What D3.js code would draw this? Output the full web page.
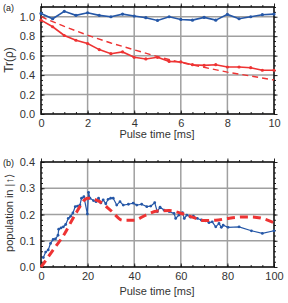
<!DOCTYPE html>
<html><head><meta charset="utf-8">
<script src="https://cdn.jsdelivr.net/npm/d3@7"></script>
<style>body{margin:0;background:#fff}svg{display:block}text{font-family:"Liberation Sans",Arial,sans-serif}</style>
</head><body><svg id="c" width="288" height="303"></svg>
<script>
// Panel (a)
const aTime = [0,0.5,1,1.5,2,2.5,3,3.5,4,4.5,5,5.5,6,6.5,7,7.5,8,8.5,9,9.5,10];
const aBlue = [1.034,0.979,1.056,1.014,1.041,1.014,1.0,1.027,1.007,0.99,0.962,1.0,0.972,0.965,0.993,0.965,1.024,0.979,1.0,1.021,1.027];
const aRed  = [0.965,0.897,0.807,0.758,0.724,0.662,0.62,0.638,0.583,0.566,0.583,0.541,0.535,0.507,0.5,0.507,0.483,0.483,0.476,0.45,0.45];
const aFitX = [0,1,2,3,4,5,6,7,8,9,10];
const aFitY = [1.0,0.90,0.81,0.73,0.66,0.59,0.53,0.48,0.43,0.39,0.35];
const aXTicks = [0,2,4,6,8,10];
const aYTicks = [0,0.2,0.4,0.6,0.8,1.0];
// Panel (b)
const bTime = [1,2,3.1,4.1,5.2,6.2,7.3,7.6,8.6,9.6,10.6,11.7,12.7,13.7,14.7,15.7,16.7,17.4,18.4,19.9,20.4,21.0,22.5,23.6,24.7,25.7,26.7,27.8,28.8,29.9,31.0,32.5,33.9,35.3,37.5,39.6,41.1,43.2,45.4,47.1,48.8,49.9,51.1,52.8,55,57.1,57.8,59.2,60.7,61.5,62.6,64.2,65.4,67.1,68.8,70.7,72.1,73.5,75,76.4,77.4,78.2,80.3,85,90.3,95,100];
const bPop  = [0.036,0.057,0.065,0.09,0.105,0.107,0.121,0.144,0.149,0.153,0.162,0.185,0.193,0.206,0.23,0.232,0.236,0.262,0.268,0.202,0.284,0.262,0.253,0.249,0.262,0.244,0.256,0.241,0.258,0.262,0.262,0.236,0.249,0.236,0.239,0.243,0.236,0.239,0.23,0.232,0.245,0.211,0.228,0.217,0.211,0.204,0.185,0.198,0.207,0.185,0.198,0.19,0.194,0.185,0.179,0.176,0.169,0.172,0.153,0.166,0.151,0.159,0.151,0.153,0.138,0.128,0.138];
const bFitX = [0,5,10,15,20,25,30,35,40,45,50,55,60,65,70,75,80,85,90,95,100];
const bFitY = [0,0.062,0.125,0.205,0.262,0.25,0.215,0.178,0.178,0.198,0.213,0.215,0.205,0.19,0.177,0.178,0.185,0.19,0.191,0.185,0.169];
const bXTicks = [0,20,40,60,80,100];
const bYTicks = [0,0.1,0.2,0.3,0.4];

const BLUE = "#2557a7", RED = "#ee3333", GRID = "#a0a0a0";
const svg = d3.select("#c");

function panel(o){
  const x = d3.scaleLinear().domain(o.xd).range([41,274]);
  const y = d3.scaleLinear().domain(o.yd).range([o.bottom,o.top]);
  const g = svg.append("g");
  g.selectAll(".gx").data(o.xt.slice(1,-1)).join("line")
    .attr("x1",d=>x(d)).attr("x2",d=>x(d)).attr("y1",o.top).attr("y2",o.bottom)
    .attr("stroke",GRID).attr("stroke-width",1.5);
  g.selectAll(".gy").data(o.yt.filter(v=>v>o.yd[0] && v<o.yd[1]-1e-9)).join("line")
    .attr("y1",d=>y(d)).attr("y2",d=>y(d)).attr("x1",41).attr("x2",274)
    .attr("stroke",GRID).attr("stroke-width",1.5);
  const mk = (axisFn, scale, ticks, len, fmt) => axisFn(scale).tickValues(ticks).tickSizeInner(-len).tickSizeOuter(0).tickPadding(5).tickFormat(fmt);
  const xMinor = d3.range(o.xd[0], o.xd[1]+1e-9, o.xm);
  const yMinor = d3.range(o.yd[0], o.yd[1]+1e-9, o.ym);
  const ax = g.append("g").attr("transform",`translate(0,${o.bottom})`).call(mk(d3.axisBottom,x,o.xt,3.5,d3.format("d")));
  g.append("g").attr("transform",`translate(0,${o.bottom})`).call(mk(d3.axisBottom,x,xMinor,2,"")).select(".domain").remove();
  g.append("g").attr("transform",`translate(0,${o.top})`).call(mk(d3.axisTop,x,o.xt,-3.5,"")).select(".domain").remove();
  g.append("g").attr("transform",`translate(0,${o.top})`).call(mk(d3.axisTop,x,xMinor,-2,"")).select(".domain").remove();
  const ay = g.append("g").attr("transform",`translate(41,0)`).call(mk(d3.axisLeft,y,o.yt,3.5,d3.format(".1f")));
  g.append("g").attr("transform",`translate(41,0)`).call(mk(d3.axisLeft,y,yMinor,2,"")).select(".domain").remove();
  g.append("g").attr("transform",`translate(274,0)`).call(mk(d3.axisRight,y,o.yt,-3.5,"")).select(".domain").remove();
  g.append("g").attr("transform",`translate(274,0)`).call(mk(d3.axisRight,y,yMinor,-2,"")).select(".domain").remove();
  ax.select(".domain").remove(); ay.select(".domain").remove();
  g.selectAll(".tick line").attr("stroke","#222").attr("stroke-width",1);
  g.selectAll(".tick text").attr("font-size",11).attr("fill","#333");
  ay.selectAll(".tick text").attr("dx","-1");
  g.append("rect").attr("x",41).attr("y",o.top).attr("width",233).attr("height",o.bottom-o.top)
    .attr("fill","none").attr("stroke","#111").attr("stroke-width",1.6);
  svg.append("text").attr("x",157).attr("y",o.bottom+o.tOff).attr("text-anchor","middle").attr("font-size",11).attr("fill","#333").text("Pulse time [ms]");
  svg.append("text").attr("transform",`translate(13,${o.ylc}) rotate(-90)`).attr("text-anchor","middle").attr("font-size",o.ylfs).attr("fill","#333").text(o.ylab);
  svg.append("text").attr("x",3).attr("y",o.top+4).attr("font-size",9).attr("fill","#222").attr("font-family","Liberation Serif, serif").text(o.tag);
  return {x,y,g};
}

// Panel (a)
const A = panel({xd:[0,10],yd:[0,1.1],top:7,bottom:114,xt:aXTicks,yt:aYTicks,xm:0.5,ym:0.05,ylab:"Tr(ρ)",ylc:60,ylfs:12,tag:"(a)",tOff:24});
const lineA = d3.line().x(d=>A.x(d[0])).y(d=>A.y(d[1]));
A.g.append("path").attr("d",lineA(d3.zip(aFitX,aFitY))).attr("fill","none").attr("stroke",RED).attr("stroke-width",1.4).attr("stroke-dasharray","6,4");
A.g.append("path").attr("d",lineA(d3.zip(aTime,aRed))).attr("fill","none").attr("stroke",RED).attr("stroke-width",1.6);
A.g.selectAll(".rm").data(d3.zip(aTime,aRed)).join("circle").attr("cx",d=>A.x(d[0])).attr("cy",d=>A.y(d[1])).attr("r",1.6).attr("fill",RED);
A.g.append("path").attr("d",lineA(d3.zip(aTime,aBlue))).attr("fill","none").attr("stroke",BLUE).attr("stroke-width",1.6);
A.g.selectAll(".bm").data(d3.zip(aTime,aBlue)).join("circle").attr("cx",d=>A.x(d[0])).attr("cy",d=>A.y(d[1])).attr("r",1.6).attr("fill",BLUE);

// Panel (b)
const B = panel({xd:[0,100],yd:[0,0.4],top:162,bottom:267,xt:bXTicks,yt:bYTicks,xm:5,ym:0.02,ylab:"population in |↑⟩",ylc:213,ylfs:11,tag:"(b)",tOff:28});
const lineB = d3.line().x(d=>B.x(d[0])).y(d=>B.y(d[1]));
B.g.append("path").attr("d",lineB(d3.zip(bTime,bPop))).attr("fill","none").attr("stroke",BLUE).attr("stroke-width",1.2);
B.g.selectAll(".pm").data(d3.zip(bTime,bPop)).join("circle").attr("cx",d=>B.x(d[0])).attr("cy",d=>B.y(d[1])).attr("r",1.4).attr("fill",BLUE);
B.g.append("path").attr("d",d3.line().curve(d3.curveMonotoneX).x(d=>B.x(d[0])).y(d=>B.y(d[1]))(d3.zip(bFitX,bFitY)))
  .attr("fill","none").attr("stroke",RED).attr("stroke-width",3).attr("stroke-dasharray","8,5");
</script></body></html>
